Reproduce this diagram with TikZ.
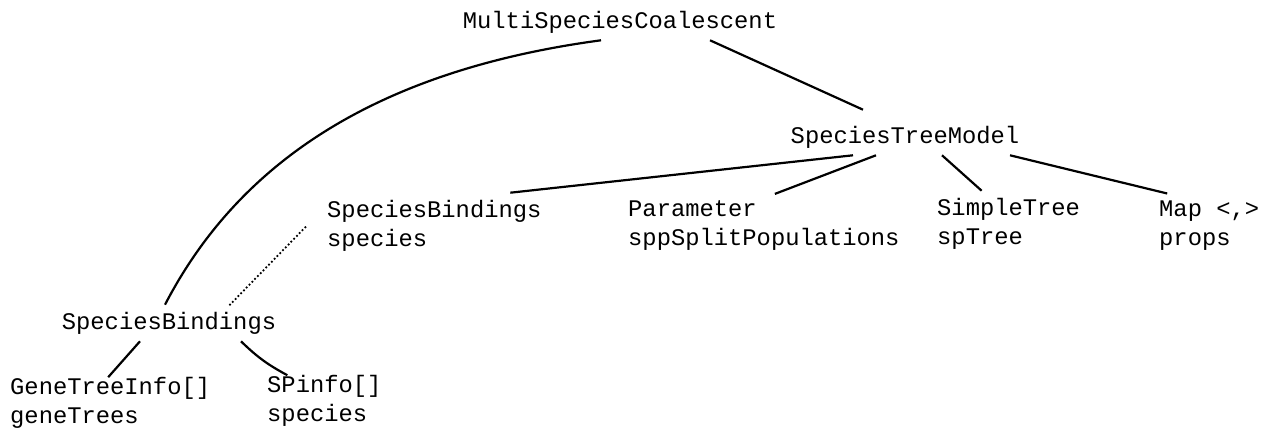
\documentclass[tikz,border=0pt]{standalone}
\usepackage{fontspec}
\setmonofont{Liberation Mono}
\usetikzlibrary{positioning}
\begin{document}
\begin{tikzpicture}[x=1pt,y=-1pt,
    every node/.style={font=\ttfamily\fontsize{23.8}{29}\selectfont, inner xsep=0pt, inner ysep=7pt, align=left},
    link/.style={line width=2.2pt}]
    \useasboundingbox (0,0) rectangle (1272,430);
    \node (coalescent) at (620,22)    {MultiSpeciesCoalescent};
    \node (treemodel)  at (905,137)   {SpeciesTreeModel};
    \node (bindings2)  at (327,225.5) [anchor=west] {SpeciesBindings\\species};
    \node (param)      at (628,226)   [anchor=west] {Parameter\\sppSplitPopulations};
    \node (simpletree) at (937,223.5) [anchor=west] {SimpleTree\\spTree};
    \node (propmap)    at (1159,225.5) [anchor=west] {Map <,>\\props};
    \node (bindings1)  at (169,323)   {SpeciesBindings};
    \node (genetrees)  at (10,403)    [anchor=west] {GeneTreeInfo[]\\geneTrees};
    \node (spinfo)     at (267,401)   [anchor=west] {SPinfo[]\\species};
    \draw[link] ([xshift=-19pt]coalescent.south) .. controls (380,70) and (240,160) .. ([xshift=-4pt]bindings1.north);
    \draw[link] ([xshift=90pt]coalescent.south) -- ([xshift=-42pt,yshift=9pt]treemodel.north);
    \draw[link] ([xshift=-52pt]treemodel.south) -- ([xshift=76pt]bindings2.north);
    \draw[link] ([xshift=-29pt]treemodel.south) -- ([xshift=11pt]param.north);
    \draw[link] ([xshift=37pt]treemodel.south) -- ([xshift=-27pt]simpletree.north);
    \draw[link] ([xshift=105pt]treemodel.south) -- ([xshift=-42pt]propmap.north);
    \draw[line width=2.5pt, line cap=round, dash pattern=on 0pt off 4pt] ([xshift=61pt]bindings1.north) -- ([xshift=-20pt]bindings2.west);
    \draw[link] ([xshift=-29pt]bindings1.south) -- ([xshift=-2pt,yshift=-7pt]genetrees.north);
    \draw[link] ([xshift=72pt]bindings1.south) to[bend right=8] ([xshift=-37pt,yshift=-7pt]spinfo.north);
\end{tikzpicture}
\end{document}
